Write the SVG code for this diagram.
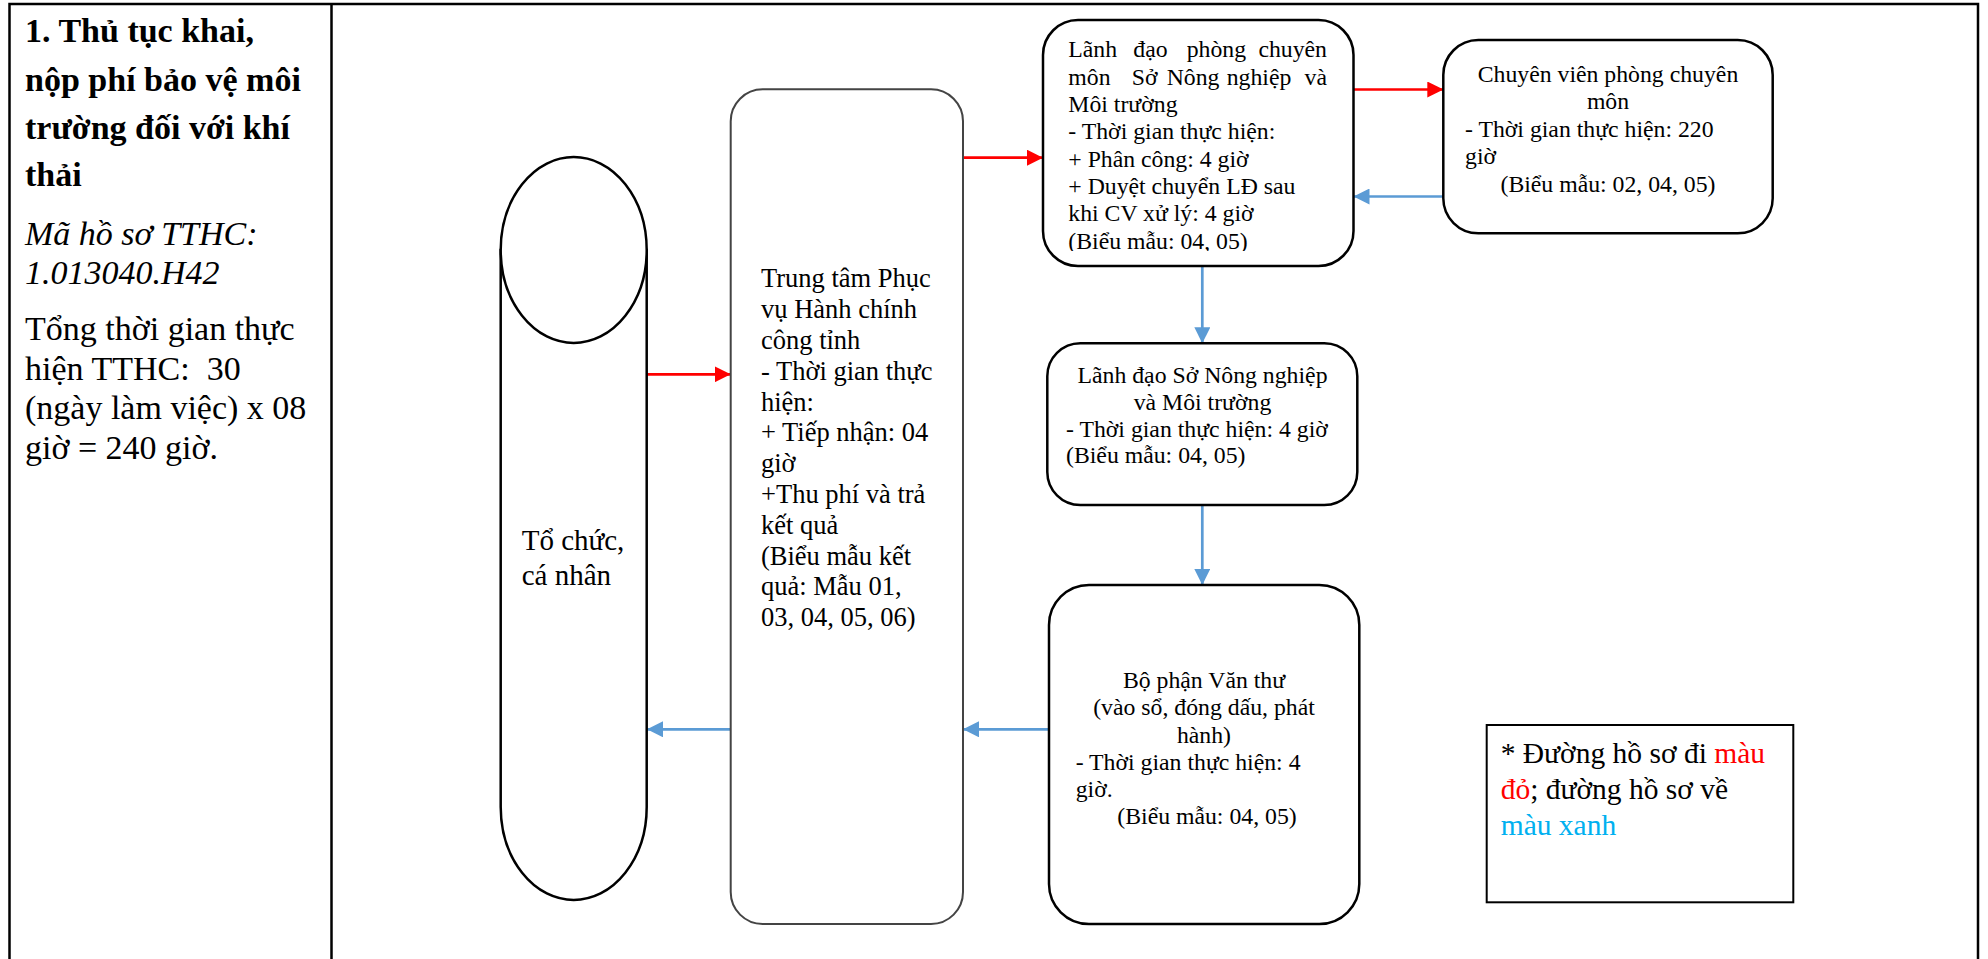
<svg xmlns="http://www.w3.org/2000/svg" width="1988" height="959" viewBox="0 0 1988 959">
<style>
text{font-family:"Liberation Serif","Times New Roman",serif;fill:#000}
.frame{stroke:#000;stroke-width:2.5;fill:none}
.node{fill:#fff;stroke:#000;stroke-width:2.5}
.node2{fill:#fff;stroke:#444;stroke-width:2}
.t24{font-size:23.75px}
.t26{font-size:26.5px}
.t34{font-size:34px}
.red{stroke:#FF0000;stroke-width:2.7;fill:none;marker-end:url(#ar)}
.blue{stroke:#5B9BD5;stroke-width:2.7;fill:none;marker-end:url(#ab)}
.c{text-anchor:middle}
</style>
<defs>
<marker id="ar" markerUnits="userSpaceOnUse" markerWidth="16" markerHeight="16" refX="16" refY="8" orient="auto"><path d="M0,0 L16,8 L0,16 z" fill="#FF0000"/></marker>
<marker id="ab" markerUnits="userSpaceOnUse" markerWidth="16" markerHeight="16" refX="16" refY="8" orient="auto"><path d="M0,0 L16,8 L0,16 z" fill="#5B9BD5"/></marker>
<clipPath id="clipLD"><rect x="1043" y="20" width="311" height="231"/></clipPath>
</defs>
<rect width="1988" height="959" fill="#fff"/>
<g id="table">
<path class="frame" d="M9.5,959 V4 H1978 V959 M331.5,4 V959"/>
</g>
<g id="title">
<text class="t34" font-weight="bold" x="25" y="42">1. Thủ tục khai,</text>
<text class="t34" font-weight="bold" x="25" y="90.5">nộp phí bảo vệ môi</text>
<text class="t34" font-weight="bold" x="25" y="138.5">trường đối với khí</text>
<text class="t34" font-weight="bold" x="25" y="186">thải</text>
<text class="t34" font-style="italic" x="25" y="244.5">Mã hồ sơ TTHC:</text>
<text class="t34" font-style="italic" x="25" y="284">1.013040.H42</text>
<text class="t34" x="25" y="340">Tổng thời gian thực</text>
<text class="t34" x="25" y="380" xml:space="preserve">hiện TTHC:  30</text>
<text class="t34" x="25" y="419">(ngày làm việc) x 08</text>
<text class="t34" x="25" y="458.5">giờ = 240 giờ.</text>
</g>
<g id="connectors">
<line class="red" x1="647" y1="374.3" x2="730.7" y2="374.3"/>
<line class="red" x1="963" y1="157.7" x2="1043" y2="157.7"/>
<line class="red" x1="1353.5" y1="89.5" x2="1443.3" y2="89.5"/>
<line class="blue" x1="1443.3" y1="196.5" x2="1353.5" y2="196.5"/>
<line class="blue" x1="1202.3" y1="266" x2="1202.3" y2="343.3"/>
<line class="blue" x1="1202.3" y1="505" x2="1202.3" y2="585"/>
<line class="blue" x1="1049" y1="729.3" x2="963" y2="729.3"/>
<line class="blue" x1="730.7" y1="729.3" x2="647" y2="729.3"/>
</g>
<g id="to-chuc">
<path class="node" d="M500.7,250 V807 A73,93 0 0 0 646.7,807 V250 z"/>
<ellipse class="node" cx="573.7" cy="250" rx="73" ry="93"/>
<text x="521.7" y="550" font-size="29px">Tổ chức,</text>
<text x="521.7" y="585" font-size="29px">cá nhân</text>
</g>
<g id="trung-tam">
<rect class="node2" x="730.7" y="89.3" width="232.3" height="834.7" rx="32"/>
<text class="t26" x="761" y="287.3">Trung tâm Phục</text>
<text class="t26" x="761" y="318.2">vụ Hành chính</text>
<text class="t26" x="761" y="349">công tỉnh</text>
<text class="t26" x="761" y="379.8">- Thời gian thực</text>
<text class="t26" x="761" y="410.6">hiện:</text>
<text class="t26" x="761" y="441.4">+ Tiếp nhận: 04</text>
<text class="t26" x="761" y="472.2">giờ</text>
<text class="t26" x="761" y="503">+Thu phí và trả</text>
<text class="t26" x="761" y="533.8">kết quả</text>
<text class="t26" x="761" y="564.6">(Biểu mẫu kết</text>
<text class="t26" x="761" y="595.4">quả: Mẫu 01,</text>
<text class="t26" x="761" y="626.2">03, 04, 05, 06)</text>
</g>
<g id="lanh-dao-phong">
<rect class="node" x="1043" y="20" width="310.5" height="246" rx="35"/>
<g clip-path="url(#clipLD)">
<text class="t24" y="56.7"><tspan x="1068.3">Lãnh</tspan><tspan x="1133.3">đạo</tspan><tspan x="1186.7">phòng</tspan><tspan x="1327" text-anchor="end">chuyên</tspan></text>
<text class="t24" y="84.5"><tspan x="1068.3">môn</tspan><tspan x="1131.7">Sở</tspan><tspan x="1166.7">Nông</tspan><tspan x="1226.7">nghiệp</tspan><tspan x="1327" text-anchor="end">và</tspan></text>
<text class="t24" x="1068.3" y="112">Môi trường</text>
<text class="t24" x="1068.3" y="139.3">- Thời gian thực hiện:</text>
<text class="t24" x="1068.3" y="166.6">+ Phân công: 4 giờ</text>
<text class="t24" x="1068.3" y="193.9">+ Duyệt chuyển LĐ sau</text>
<text class="t24" x="1068.3" y="221.2">khi CV xử lý: 4 giờ</text>
<text class="t24" x="1068.3" y="248.5">(Biểu mẫu: 04, 05)</text>
</g>
</g>
<g id="chuyen-vien">
<rect class="node" x="1443.3" y="40" width="329.4" height="193.3" rx="35"/>
<text class="t24 c" x="1608" y="81.7">Chuyên viên phòng chuyên</text>
<text class="t24 c" x="1608" y="109.2">môn</text>
<text class="t24" x="1465" y="136.7">- Thời gian thực hiện: 220</text>
<text class="t24" x="1465" y="164">giờ</text>
<text class="t24 c" x="1608" y="191.5">(Biểu mẫu: 02, 04, 05)</text>
</g>
<g id="lanh-dao-so">
<rect class="node" x="1047.3" y="343.3" width="310" height="161.7" rx="33"/>
<text class="t24 c" x="1202.5" y="383.3">Lãnh đạo Sở Nông nghiệp</text>
<text class="t24 c" x="1202.5" y="410">và Môi trường</text>
<text class="t24" x="1066" y="436.7">- Thời gian thực hiện: 4 giờ</text>
<text class="t24" x="1066" y="463.3">(Biểu mẫu: 04, 05)</text>
</g>
<g id="van-thu">
<rect class="node" x="1049" y="585" width="310.3" height="339" rx="40"/>
<text class="t24 c" x="1204" y="687.7">Bộ phận Văn thư</text>
<text class="t24 c" x="1204" y="715.2">(vào sổ, đóng dấu, phát</text>
<text class="t24 c" x="1204" y="742.7">hành)</text>
<text class="t24" x="1075.7" y="769.5">- Thời gian thực hiện: 4</text>
<text class="t24" x="1075.7" y="797">giờ.</text>
<text class="t24 c" x="1207" y="824.3">(Biểu mẫu: 04, 05)</text>
</g>
<g id="legend">
<rect x="1486.7" y="725" width="306.6" height="177.3" fill="#fff" stroke="#000" stroke-width="2"/>
<text x="1500.7" y="763.3" font-size="29.5px">* Đường hồ sơ đi <tspan fill="#FF0000">màu</tspan></text>
<text x="1500.7" y="798.6" font-size="29.5px"><tspan fill="#FF0000">đỏ</tspan>; đường hồ sơ về</text>
<text x="1500.7" y="835" font-size="29.5px"><tspan fill="#00B0F0">màu xanh</tspan></text>
</g>
</svg>
